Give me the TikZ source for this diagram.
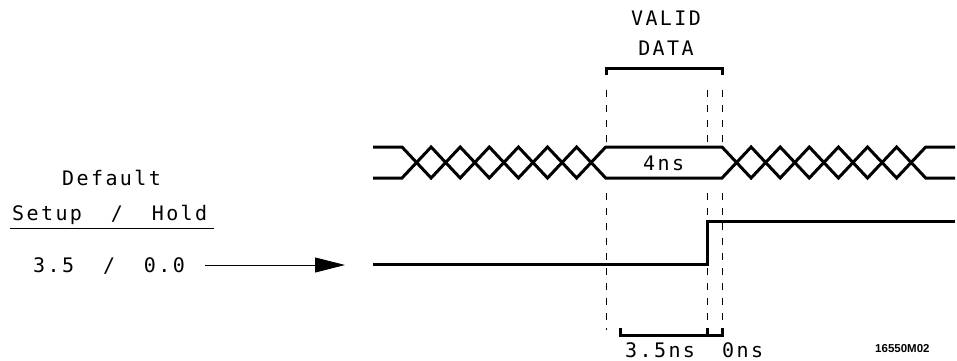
\documentclass[tikz,border=0pt]{standalone}
\usepackage{fontspec}
\usepackage{tikz}
\usetikzlibrary{arrows.meta}
\newfontfamily\hpfont[LetterSpace=12]{DejaVu Sans Mono}
\newfontfamily\tagfont{Liberation Sans}
\newcommand\gap{\hspace{28.9pt}}

\begin{document}
\begin{tikzpicture}[x=1pt, y=-1pt,
  every node/.style={inner sep=0pt, anchor=base west, font=\hpfont\fontsize{20}{22}\selectfont},
  bus/.style={line width=3pt},
  brk/.style={line width=3pt},
  guide/.style={line width=0.8pt, dash pattern=on 7pt off 8pt},
  arr/.style={line width=0.8pt, -{Triangle[length=30pt,width=15pt]}}]
  \useasboundingbox (0,0) rectangle (957,360);
  % left side labels
  \node (deflt) at (62,185) {Default};
  \node (hdr) at (12,220) {Setup\gap/\gap Hold};
  \draw[line width=0.8pt] (10,228) -- (214,228);
  \node (val) at (33,272) {3.5\gap/\gap0.0};
  \coordinate (arrowend) at (345,265);
  \draw[arr, shorten <=20pt] (val.east |- arrowend) -- (arrowend);
  % data bus
  \draw[bus] (373,147) -- (402,147)
    \foreach \i [evaluate=\i as \yy using {mod(\i,2)==1 ? 178 : 147}] in {1,...,7} { -- (402+29.1*\i,\yy) }
    -- (722,178)
    \foreach \i [evaluate=\i as \yy using {mod(\i,2)==1 ? 147 : 178}] in {1,...,7} { -- (722+29.1*\i,\yy) }
    -- (955,147);
  \draw[bus] (373,178) -- (402,178)
    \foreach \i [evaluate=\i as \yy using {mod(\i,2)==1 ? 147 : 178}] in {1,...,7} { -- (402+29.1*\i,\yy) }
    -- (722,147)
    \foreach \i [evaluate=\i as \yy using {mod(\i,2)==1 ? 178 : 147}] in {1,...,7} { -- (722+29.1*\i,\yy) }
    -- (955,178);
  \node (width) at (643,170) {4ns};
  % clock step
  \coordinate (sigstart) at (373,264);
  \draw[bus] (sigstart) -- (707,264) |- (955,221);
  % valid window
  \node[anchor=base] (valid) at (666,25) {VALID};
  \node[anchor=base] (data) at (666,55) {DATA};
  \draw[brk] (606,75) -- (606,68) -- (722,68) -- (722,75);
  \draw[guide] (606,90) -- (606,142) (606,193) -- (606,330);
  \draw[guide] (707,90) -- (707,142) (707,193) -- (707,335);
  \draw[guide] (722,90) -- (722,142) (722,193) -- (722,335);
  % setup / hold times
  \draw[brk] (620,328) -- (620,335) -- (722,335) -- (722,328);
  \draw[brk] (707,335) -- (707,328);
  \node (setup) at (625,357) {3.5ns};
  \node (hold) at (722,357) {0ns};
  \node[font=\tagfont\bfseries\fontsize{11.5}{13}\selectfont] (tag) at (875,352) {16550M02};
\end{tikzpicture}
\end{document}
